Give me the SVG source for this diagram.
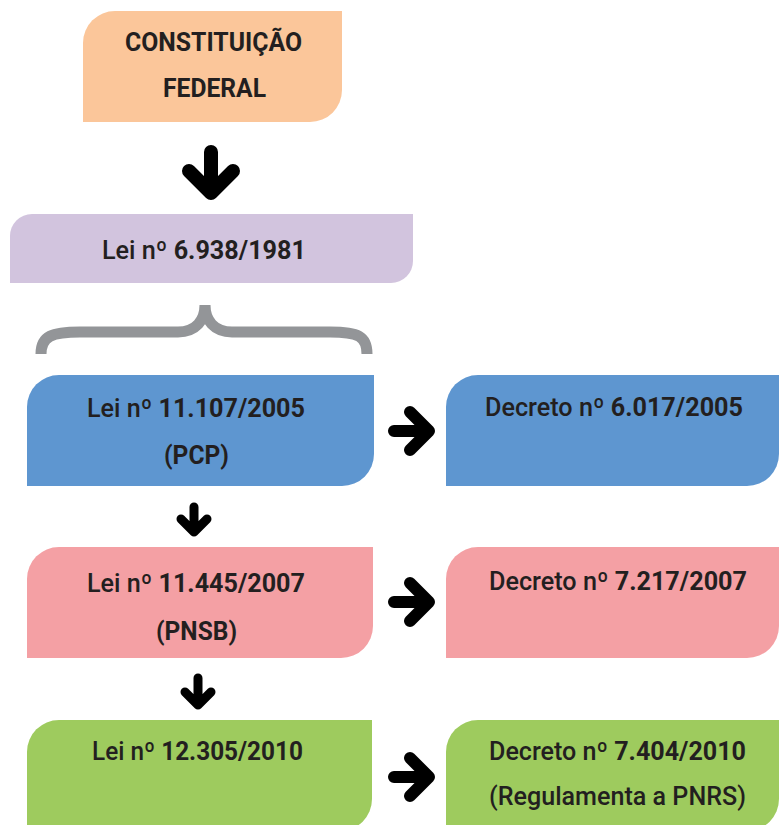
<svg xmlns="http://www.w3.org/2000/svg" width="779" height="825" viewBox="0 0 779 825">
  <style>
    .t { font-family: "Roboto", "Liberation Sans", sans-serif; font-size: 26px; fill: #231f20; font-weight: 700; }
    .m { font-weight: 500; }
    .arrow { fill: none; stroke: #000; stroke-linecap: round; stroke-linejoin: round; }
    .orange { fill: #fbc69a; }
    .purple { fill: #d2c4de; }
    .blue { fill: #5e96d0; }
    .pink { fill: #f4a0a4; }
    .green { fill: #9ecb5e; }
  </style>
  <rect width="779" height="825" fill="#fff"/>

  <g id="constituicao">
    <path class="orange" d="M115 11 H342 V90 A32 32 0 0 1 310 122 H83 V43 A32 32 0 0 1 115 11 Z"/>
    <text class="t" x="125" y="51" textLength="177" lengthAdjust="spacingAndGlyphs">CONSTITUIÇÃO</text>
    <text class="t" x="163" y="97" textLength="103" lengthAdjust="spacingAndGlyphs">FEDERAL</text>
  </g>

  <g id="lei-6938">
    <path class="purple" d="M32 214 H413 V261 A22 22 0 0 1 391 283 H10 V236 A22 22 0 0 1 32 214 Z"/>
    <text class="t" x="102" y="259" textLength="204" lengthAdjust="spacingAndGlyphs"><tspan class="m">Lei nº </tspan>6.938/1981</text>
  </g>

  <g id="chave">
    <path d="M41 354 C41 336 52 332 80 332 L178 332 C196 332 205 320 205 305 C205 320 214 332 232 332 L330 332 C358 332 367 336 367 354" fill="none" stroke="#939598" stroke-width="11"/>
  </g>

  <g id="lei-11107">
    <path class="blue" d="M59 375 H374 V454 A32 32 0 0 1 342 486 H27 V407 A32 32 0 0 1 59 375 Z"/>
    <text class="t" x="87" y="417" textLength="218" lengthAdjust="spacingAndGlyphs"><tspan class="m">Lei nº </tspan>11.107/2005</text>
    <text class="t" x="164" y="464" textLength="65" lengthAdjust="spacingAndGlyphs">(PCP)</text>
  </g>

  <g id="decreto-6017">
    <path class="blue" d="M478 375 H779 V454 A32 32 0 0 1 747 486 H446 V407 A32 32 0 0 1 478 375 Z"/>
    <text class="t" x="485" y="416" textLength="258" lengthAdjust="spacingAndGlyphs"><tspan class="m">Decreto nº </tspan>6.017/2005</text>
  </g>

  <g id="lei-11445">
    <path class="pink" d="M59 547 H373 V626 A32 32 0 0 1 341 658 H27 V579 A32 32 0 0 1 59 547 Z"/>
    <text class="t" x="87" y="592" textLength="218" lengthAdjust="spacingAndGlyphs"><tspan class="m">Lei nº </tspan>11.445/2007</text>
    <text class="t" x="156" y="640" textLength="81" lengthAdjust="spacingAndGlyphs">(PNSB)</text>
  </g>

  <g id="decreto-7217">
    <path class="pink" d="M478 547 H779 V626 A32 32 0 0 1 747 658 H446 V579 A32 32 0 0 1 478 547 Z"/>
    <text class="t" x="489" y="590" textLength="258" lengthAdjust="spacingAndGlyphs"><tspan class="m">Decreto nº </tspan>7.217/2007</text>
  </g>

  <g id="lei-12305">
    <path class="green" d="M59 720 H372 V799 A32 32 0 0 1 340 831 H27 V752 A32 32 0 0 1 59 720 Z"/>
    <text class="t" x="92" y="760" textLength="211" lengthAdjust="spacingAndGlyphs"><tspan class="m">Lei nº </tspan>12.305/2010</text>
  </g>

  <g id="decreto-7404">
    <path class="green" d="M478 720 H779 V799 A32 32 0 0 1 747 831 H446 V752 A32 32 0 0 1 478 720 Z"/>
    <text class="t" x="489" y="760" textLength="257" lengthAdjust="spacingAndGlyphs"><tspan class="m">Decreto nº </tspan>7.404/2010</text>
    <text class="t m" x="489" y="805" textLength="257" lengthAdjust="spacingAndGlyphs">(Regulamenta a PNRS)</text>
  </g>

  <g id="conectores">
    <path class="arrow" stroke-width="14" d="M211 152 V193 M189 171 L211 193 L233 171"/>
    <path class="arrow" stroke-width="9" d="M194 507 V532 M181 519 L194 532 L207 519"/>
    <path class="arrow" stroke-width="9" d="M198 678 V705 M185 692 L198 705 L211 692"/>
    <path class="arrow" stroke-width="12" d="M394 431 H429 M410 412 L429 431 L410 450"/>
    <path class="arrow" stroke-width="12" d="M394 602 H429 M410 583 L429 602 L410 621"/>
    <path class="arrow" stroke-width="12" d="M394 777 H429 M410 758 L429 777 L410 796"/>
  </g>
</svg>
